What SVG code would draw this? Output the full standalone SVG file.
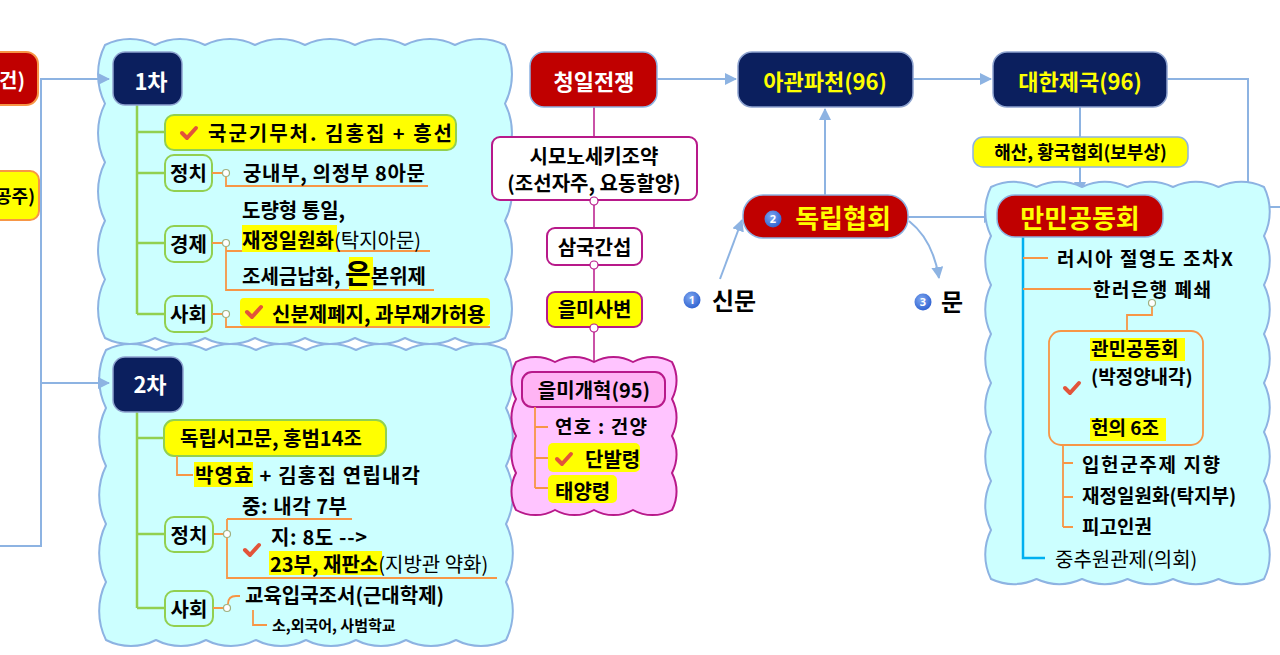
<svg xmlns="http://www.w3.org/2000/svg" xmlns:xlink="http://www.w3.org/1999/xlink" width="1280" height="655" viewBox="0 0 1280 655">
<style>
.t{font-family:"Noto Sans CJK KR","Noto Sans",sans-serif;font-weight:700;font-size:20px;fill:#000}
.s15{font-size:15px}
.s18{font-size:18px}
.s19{font-size:19px}
.s22{font-size:22px}
.s24{font-size:24px}
.s26{font-size:26px}
.r{font-weight:400}
.c{text-anchor:middle}
.e{text-anchor:end}
.w{fill:#fff}
.y{fill:#ffff00}
.cloud{fill:#ccffff;stroke:#8db3e2;stroke-width:2}
.pink{fill:#ffc4ff;stroke:#b8198a;stroke-width:2}
.navy{fill:#0b1f5e;stroke:#8ea3cf;stroke-width:1.5}
.red{fill:#c00000;stroke:#8db3e2;stroke-width:1.5}
.g{stroke:#92d050;stroke-width:2.5;fill:none}
.gb{fill:#ccffff;stroke:#92d050;stroke-width:2}
.o{stroke:#f79646;stroke-width:1.8;fill:none}
.m{stroke:#b8198a;stroke-width:1.5;fill:none}
.mb{fill:#fff;stroke:#b8198a;stroke-width:2}
.conn{stroke:#8db3e2;stroke-width:2;fill:none}
.hl{fill:#ffff00}
.dot{fill:#fff;stroke:#a0b080;stroke-width:1.2}
.mdot{fill:#fff;stroke:#b8198a;stroke-width:1.2}
.chk{stroke:#e2543a;stroke-width:4;fill:none;stroke-linecap:round;stroke-linejoin:round}
.num{font-family:"Noto Sans","DejaVu Sans",sans-serif;font-weight:700;font-size:11px;fill:#fff;text-anchor:middle}
</style>
<defs>
<marker id="arr" markerUnits="userSpaceOnUse" markerWidth="12" markerHeight="12" refX="11" refY="6" orient="auto">
<path d="M0,0 L12,6 L0,12 z" fill="#8db3e2"/>
</marker>
<radialGradient id="bg" cx="0.4" cy="0.35" r="0.7">
<stop offset="0" stop-color="#7fa8f0"/>
<stop offset="1" stop-color="#2c5fcf"/>
</radialGradient>
<symbol id="ck" viewBox="0 0 18 14" width="18" height="14" overflow="visible">
<path class="chk" d="M2,7 L7,12 L16,2"/>
</symbol>
</defs>

<!-- partial nodes at left edge -->
<g id="n-left-red">
<rect x="-20" y="52" width="58" height="53" rx="12" fill="#c00000" stroke="#f79646" stroke-width="2"/>
<text class="t w e" x="25" y="88">건)</text>
</g>
<g id="n-left-yellow">
<rect x="-20" y="171" width="59" height="49" rx="9" fill="#ffff00" stroke="#f79646" stroke-width="2"/>
<text class="t s18 e" x="35" y="203">공주)</text>
</g>

<!-- 1차 -->
<g id="n-1cha">
<path class="cloud" d="M105,45 a55,55 0 0 1 50,0 a55,55 0 0 1 50,0 a55,55 0 0 1 50,0 a55,55 0 0 1 50,0 a55,55 0 0 1 50,0 a55,55 0 0 1 50,0 a55,55 0 0 1 50,0 a55,55 0 0 1 50,0 a65,65 0 0 1 0,58.6 a65,65 0 0 1 0,58.6 a65,65 0 0 1 0,58.6 a65,65 0 0 1 0,58.6 a65,65 0 0 1 0,58.6 a55,55 0 0 1 -50,0 a55,55 0 0 1 -50,0 a55,55 0 0 1 -50,0 a55,55 0 0 1 -50,0 a55,55 0 0 1 -50,0 a55,55 0 0 1 -50,0 a55,55 0 0 1 -50,0 a55,55 0 0 1 -50,0 a65,65 0 0 1 0,-58.6 a65,65 0 0 1 0,-58.6 a65,65 0 0 1 0,-58.6 a65,65 0 0 1 0,-58.6 a65,65 0 0 1 0,-58.6 z"/>
<path class="g" d="M137,105 V314 M137,132 H165 M137,173 H165 M137,243 H165 M137,314 H165"/>
<rect class="navy" x="113" y="52" width="69" height="53" rx="12"/>
<text class="t s22 w c" x="151" y="90">1차</text>
<rect x="165" y="115" width="291" height="35" rx="9" fill="#ffff00" stroke="#92d050" stroke-width="2"/>
<use href="#ck" x="180" y="126"/>
<text class="t" x="208" y="141" textLength="244">국군기무처. 김홍집 + 흥선</text>

<rect class="gb" x="165" y="155" width="47" height="36" rx="9"/>
<text class="t c" x="188.5" y="181">정치</text>
<path class="o" d="M212,173 H222 M226,177 V186 H428"/>
<circle class="dot" cx="226" cy="173" r="3.5"/>
<text class="t" x="243" y="181" textLength="182">궁내부, 의정부 8아문</text>

<rect class="gb" x="165" y="226" width="47" height="36" rx="9"/>
<text class="t c" x="188.5" y="252">경제</text>
<path class="o" d="M212,243 H222 M226,247 V251 H430 M226,251 V290 H434"/>
<circle class="dot" cx="226" cy="243" r="3.5"/>
<text class="t" x="242" y="218">도량형 통일,</text>
<rect class="hl" x="242" y="225" width="95" height="27"/>
<text class="t" x="242" y="248">재정일원화<tspan font-weight="400">(탁지아문)</tspan></text>
<rect class="hl" x="349" y="257" width="24" height="33"/>
<text class="t" x="242" y="284">조세금납화, <tspan font-size="28">은</tspan>본위제</text>

<rect class="gb" x="165" y="296" width="47" height="36" rx="9"/>
<text class="t c" x="188.5" y="322">사회</text>
<path class="o" d="M212,314 H222 M226,318 V327 H490"/>
<circle class="dot" cx="226" cy="314" r="3.5"/>
<rect class="hl" x="240" y="298" width="250" height="28" rx="4"/>
<use href="#ck" x="245" y="305"/>
<text class="t" x="272" y="322">신분제폐지, 과부재가허용</text>
</g>

<!-- 2차 -->
<g id="n-2cha">
<path class="cloud" d="M106,350 a55,55 0 0 1 50,0 a55,55 0 0 1 50,0 a55,55 0 0 1 50,0 a55,55 0 0 1 50,0 a55,55 0 0 1 50,0 a55,55 0 0 1 50,0 a55,55 0 0 1 50,0 a55,55 0 0 1 50,0 a65,65 0 0 1 0,58 a65,65 0 0 1 0,58 a65,65 0 0 1 0,58 a65,65 0 0 1 0,58 a65,65 0 0 1 0,58 a55,55 0 0 1 -50,0 a55,55 0 0 1 -50,0 a55,55 0 0 1 -50,0 a55,55 0 0 1 -50,0 a55,55 0 0 1 -50,0 a55,55 0 0 1 -50,0 a55,55 0 0 1 -50,0 a55,55 0 0 1 -50,0 a65,65 0 0 1 0,-58 a65,65 0 0 1 0,-58 a65,65 0 0 1 0,-58 a65,65 0 0 1 0,-58 a65,65 0 0 1 0,-58 z"/>
<path class="g" d="M137,412 V608 M137,438 H165 M137,534 H165 M137,608 H165"/>
<rect class="navy" x="113" y="357" width="70" height="55" rx="12"/>
<text class="t s22 w c" x="150" y="393">2차</text>
<rect x="164" y="420" width="222" height="36" rx="10" fill="#ffff00" stroke="#92d050" stroke-width="2"/>
<text class="t" x="180" y="446">독립서고문, 홍범14조</text>
<path class="o" d="M177,456 V475 H193"/>
<rect class="hl" x="194" y="462" width="59" height="25"/>
<text class="t" x="195" y="483" textLength="225">박영효 + 김홍집 연립내각</text>

<text class="t" x="242" y="514" textLength="105">중: 내각 7부</text>
<path class="o" d="M213,534 H223 M227,519 H352 M227,519 V578 H497"/>
<rect class="gb" x="165" y="517" width="48" height="35" rx="9"/>
<text class="t c" x="189" y="543">정치</text>
<circle class="dot" cx="227" cy="534" r="3.5"/>
<use href="#ck" x="243" y="543"/>
<text class="t" x="271" y="545" textLength="96">지: 8도 --&gt;</text>
<rect class="hl" x="269" y="551" width="113" height="24"/>
<text class="t" x="270" y="572">23부, 재판소<tspan font-weight="400">(지방관 약화)</tspan></text>

<rect class="gb" x="165" y="591" width="48" height="35" rx="9"/>
<text class="t c" x="189" y="617">사회</text>
<path class="o" d="M213,608 H223 M228,604 Q228,596 236,596 H240 M253,610 V625 H267"/>
<circle class="dot" cx="227" cy="608" r="3.5"/>
<text class="t" x="245" y="603">교육입국조서(근대학제)</text>
<text class="t s15" x="272" y="631">소,외국어, 사범학교</text>
</g>

<!-- connectors -->
<g id="connectors">
<path class="conn" d="M0,546 H41 V79 H109" marker-end="url(#arr)"/>
<path class="conn" d="M41,383 H109" marker-end="url(#arr)"/>
<path class="conn" d="M657,79 H736" marker-end="url(#arr)"/>
<path class="conn" d="M913,79 H991" marker-end="url(#arr)"/>
<path class="conn" d="M825,195 V109" marker-end="url(#arr)"/>
<path class="conn" d="M908,217 H995" marker-end="url(#arr)"/>
<path class="conn" d="M720,279 L742,220" marker-end="url(#arr)"/>
<path class="conn" d="M909,221 Q933,240 939,278" marker-end="url(#arr)"/>
<path class="conn" d="M1167,79 H1248 V207 H1280"/>
<path class="conn" d="M1080,107 V193" marker-end="url(#arr)"/>
<path class="m" d="M594,107 V372"/>
</g>

<!-- middle column -->
<g id="n-cheongil">
<rect class="red" x="530" y="52" width="127" height="55" rx="14"/>
<text class="t s22 w c" x="594" y="90">청일전쟁</text>
</g>
<g id="n-shimonoseki">
<rect class="mb" x="492" y="137" width="205" height="63" rx="8"/>
<text class="t c" x="594" y="164">시모노세키조약</text>
<text class="t c" x="594" y="191">(조선자주, 요동할양)</text>
<circle class="mdot" cx="594" cy="201" r="4"/>
</g>
<g id="n-samguk">
<rect class="mb" x="547" y="228" width="95" height="37" rx="8"/>
<text class="t c" x="594.5" y="255">삼국간섭</text>
<circle class="mdot" cx="594" cy="265" r="4"/>
</g>
<g id="n-eulmisabyeon">
<rect x="547" y="292" width="95" height="35" rx="8" fill="#ffff00" stroke="#b8198a" stroke-width="2"/>
<text class="t c" x="594.5" y="317">을미사변</text>
<circle class="mdot" cx="594" cy="328" r="4"/>
</g>
<g id="n-eulmigaehyeok">
<path class="pink" d="M516,362 a40,40 0 0 1 39,0 a40,40 0 0 1 39,0 a40,40 0 0 1 39,0 a40,40 0 0 1 39,0 a40,40 0 0 1 0,37 a40,40 0 0 1 0,37 a40,40 0 0 1 0,37 a40,40 0 0 1 0,37 a40,40 0 0 1 -39,0 a40,40 0 0 1 -39,0 a40,40 0 0 1 -39,0 a40,40 0 0 1 -39,0 a40,40 0 0 1 0,-37 a40,40 0 0 1 0,-37 a40,40 0 0 1 0,-37 a40,40 0 0 1 0,-37 z"/>
<rect x="522" y="372" width="143" height="35" rx="10" fill="#ffb4f4" stroke="#b8198a" stroke-width="2"/>
<text class="t c" x="594" y="398">을미개혁(95)</text>
<path class="o" d="M535,407 V488 M535,427 H548 M535,458 H548 M535,488 H548"/>
<text class="t s19" x="555" y="434" textLength="92">연호 : 건양</text>
<rect class="hl" x="548" y="443" width="92" height="29" rx="5"/>
<use href="#ck" x="555" y="452"/>
<text class="t" x="585" y="467">단발령</text>
<rect class="hl" x="548" y="475" width="69" height="28" rx="5"/>
<text class="t" x="555" y="499">태양령</text>
</g>

<!-- right column -->
<g id="n-agwan">
<rect class="navy" x="738" y="52" width="175" height="55" rx="14"/>
<text class="t s22 y c" x="825" y="90">아관파천(96)</text>
</g>
<g id="n-daehan">
<rect class="navy" x="993" y="52" width="174" height="55" rx="14"/>
<text class="t s22 y c" x="1080" y="90">대한제국(96)</text>
</g>
<g id="n-dongnip">
<rect class="red" x="743" y="195" width="165" height="43" rx="20"/>
<circle cx="773" cy="219" r="8.5" fill="url(#bg)"/>
<text class="num" x="773" y="223">2</text>
<text class="t s26 y c" x="843" y="228">독립협회</text>
</g>
<g id="n-sinmun">
<circle cx="692" cy="300" r="8.5" fill="url(#bg)"/>
<text class="num" x="692" y="304">1</text>
<text class="t s24" x="712" y="310">신문</text>
</g>
<g id="n-mun">
<circle cx="923" cy="302" r="8.5" fill="url(#bg)"/>
<text class="num" x="923" y="306">3</text>
<text class="t s24" x="941" y="311">문</text>
</g>
<g id="n-manmin">
<path class="cloud" d="M991,187 a55,55 0 0 1 45.5,0 a55,55 0 0 1 45.5,0 a55,55 0 0 1 45.5,0 a55,55 0 0 1 45.5,0 a55,55 0 0 1 45.5,0 a55,55 0 0 1 45.5,0 a55,55 0 0 1 0,49 a55,55 0 0 1 0,49 a55,55 0 0 1 0,49 a55,55 0 0 1 0,49 a55,55 0 0 1 0,49 a55,55 0 0 1 0,49 a55,55 0 0 1 0,49 a55,55 0 0 1 0,49 a55,55 0 0 1 -45.5,0 a55,55 0 0 1 -45.5,0 a55,55 0 0 1 -45.5,0 a55,55 0 0 1 -45.5,0 a55,55 0 0 1 -45.5,0 a55,55 0 0 1 -45.5,0 a55,55 0 0 1 0,-49 a55,55 0 0 1 0,-49 a55,55 0 0 1 0,-49 a55,55 0 0 1 0,-49 a55,55 0 0 1 0,-49 a55,55 0 0 1 0,-49 a55,55 0 0 1 0,-49 a55,55 0 0 1 0,-49 z"/>
<path d="M1023,237 V558 H1045" stroke="#00b0f0" stroke-width="2.5" fill="none"/>
<path class="o" d="M1023,258 H1048 M1023,289 H1091 M1152,306 V315 H1127 V331 M1063,445 V527 M1063,463 H1073 M1063,497 H1073 M1063,527 H1073"/>
<rect class="red" x="997" y="195" width="166" height="42" rx="18"/>
<text class="t s26 y c" x="1080" y="228">만민공동회</text>
<text class="t s19" x="1057" y="266" textLength="176">러시아 절영도 조차X</text>
<text class="t s19" x="1093" y="297" textLength="118">한러은행 폐쇄</text>
<circle class="dot" cx="1152" cy="303" r="3.5" stroke="#f79646"/>
<rect x="1049" y="331" width="154" height="114" rx="12" fill="#ccffff" stroke="#f79646" stroke-width="1.8"/>
<rect class="hl" x="1090" y="338" width="95" height="23"/>
<text class="t s19" x="1091" y="356">관민공동회</text>
<text class="t s19" x="1091" y="384">(박정양내각)</text>
<use href="#ck" x="1063" y="381"/>
<rect class="hl" x="1090" y="418" width="76" height="23"/>
<text class="t s19" x="1091" y="435">헌의 6조</text>
<text class="t s19" x="1082" y="472" textLength="138">입헌군주제 지향</text>
<text class="t s19" x="1082" y="503">재정일원화(탁지부)</text>
<text class="t s19" x="1082" y="534">피고인권</text>
<text class="t r" x="1055" y="567">중추원관제(의회)</text>
</g>
<g id="n-haesan">
<rect x="973" y="137" width="215" height="30" rx="10" fill="#ffff00" stroke="#8db3e2" stroke-width="1.5"/>
<text class="t s18 c" x="1080.5" y="159">해산, 황국협회(보부상)</text>
</g>
</svg>
